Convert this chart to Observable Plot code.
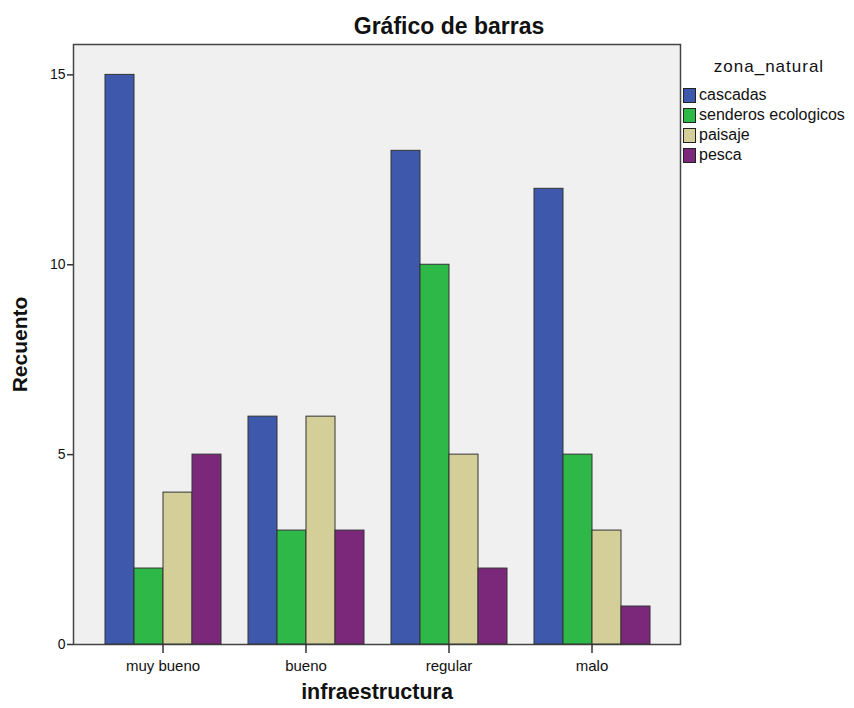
<!DOCTYPE html>
<html><head><meta charset="utf-8">
<script src="https://cdn.jsdelivr.net/npm/d3@7"></script>
<script src="https://cdn.jsdelivr.net/npm/@observablehq/plot@0.6"></script>
<style>
body{margin:0;background:#fff;font-family:"Liberation Sans",Arial,sans-serif;}
#wrap{position:relative;width:854px;height:708px;overflow:hidden;}
#wrap svg{position:absolute;left:0;top:0;}
#title{position:absolute;left:0;width:898px;top:13px;text-align:center;font-weight:bold;font-size:23px;line-height:26px;color:#111;}
#legend{position:absolute;left:683px;top:56px;width:171px;font-size:16px;color:#111;}
#legend .lt{width:172px;text-align:center;font-size:17px;letter-spacing:1px;line-height:22px;margin-bottom:7px;}
#legend .row{display:flex;align-items:center;height:20px;}
#legend .sw{width:11px;height:13px;border:1px solid #222;margin-right:3px;box-sizing:content-box;flex:none;}
</style>
</head><body>
<div id="wrap">
<div id="title">Gráfico de barras</div>
<div id="legend"></div>
</div>
<script>
const categories = ["muy bueno","bueno","regular","malo"];
const series = ["cascadas","senderos ecologicos","paisaje","pesca"];
const cascadas = [15,6,13,12];
const senderos = [2,3,10,5];
const paisaje = [4,6,5,3];
const pesca = [5,3,2,1];
const colors = ["#3e58ac","#2eb848","#d4cf99","#7b287b"];
const yTicks = [0,5,10,15];
const yMax = 15.8;

const seriesValues = [cascadas, senderos, paisaje, pesca];
const data = categories.flatMap((c,i)=>series.map((s,j)=>({cat:c, zona:s, value:seriesValues[j][i]})));

const common = {width:854, height:708, marginLeft:73, marginRight:174, marginTop:44, marginBottom:64,
  style:{fontFamily:'"Liberation Sans",Arial,sans-serif', fontSize:"14px", background:"transparent", color:"#111"}};
const bandOpts = {domain: categories, paddingInner:0.182, paddingOuter:0.213};

const base = Plot.plot({...common,
  x:{type:"band", ...bandOpts},
  y:{domain:[0,yMax]},
  marks:[
    Plot.frame({fill:"#f0f0f0", stroke:"#444", strokeWidth:1.5}),
    Plot.axisY({ticks:yTicks, tickSize:6, tickPadding:2, label:null, stroke:"#333", strokeWidth:1.5, fontSize:14}),
    Plot.axisX({tickSize:9, tickPadding:7, label:null, stroke:"#333", strokeWidth:1.5, fontSize:15}),
    Plot.text(["infraestructura"], {text:d=>d, frameAnchor:"bottom", dy:54, fontWeight:"bold", fontSize:21.5}),
    Plot.text(["Recuento"], {text:d=>d, frameAnchor:"left", textAnchor:"middle", dx:-53, rotate:-90, fontWeight:"bold", fontSize:21})
  ]
});

const bars = Plot.plot({...common,
  fx:{...bandOpts, axis:null, label:null},
  x:{domain:series, axis:null, padding:0},
  y:{domain:[0,yMax], axis:null},
  color:{domain:series, range:colors},
  marks:[
    Plot.barY(data, {fx:"cat", x:"zona", y:"value", fill:"zona", stroke:"#333", strokeWidth:1})
  ]
});

const wrap = document.getElementById("wrap");
wrap.appendChild(base);
wrap.appendChild(bars);

const legend = document.getElementById("legend");
const lt = document.createElement("div"); lt.className="lt"; lt.textContent="zona_natural"; legend.appendChild(lt);
series.forEach((s,i)=>{
  const r=document.createElement("div"); r.className="row";
  const sw=document.createElement("div"); sw.className="sw"; sw.style.background=colors[i];
  const t=document.createElement("span"); t.textContent=s;
  r.appendChild(sw); r.appendChild(t); legend.appendChild(r);
});
</script>
</body></html>
